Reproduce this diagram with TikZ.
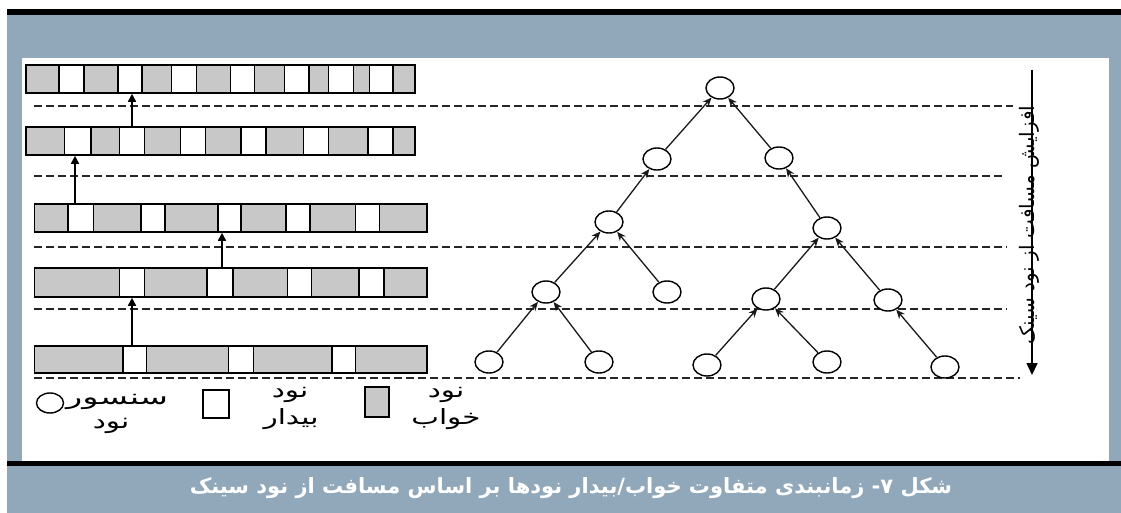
\documentclass[tikz,border=0pt]{standalone}
\usepackage{fontspec}
\usetikzlibrary{shapes.geometric,arrows.meta,fit,calc}
\newfontfamily\arabicfont[Script=Arabic]{DejaVu Sans}
\TeXXeTstate=1
\definecolor{bandblue}{RGB}{145,168,186}
\definecolor{cellgrey}{RGB}{200,200,200}
\newcommand{\lgtxt}[2][1.4]{\scalebox{#1}[1]{\beginR #2\endR}}
\tikzset{
  rowbox/.style={draw=black, fill=cellgrey, line width=1.6pt, rectangle, inner sep=0pt},
  wcell/.style={draw=black, fill=white, line width=1.6pt},
  barrow/.style={draw=black, line width=1.6pt, -{Triangle[width=8pt,length=8pt]}},
  guide/.style={draw=black!85, line width=1.4pt, dash pattern=on 8pt off 4pt},
  tnode/.style={ellipse, draw=black, fill=white, line width=1.4pt, minimum width=28pt, minimum height=22pt, inner sep=0pt},
  tedge/.style={draw=black!90, line width=1.3pt, -{Stealth[width=7.5pt,length=9pt]}},
  varrow/.style={draw=black, line width=1.6pt, -{Triangle[width=11pt,length=12pt]}},
  lgtext/.style={font=\arabicfont\fontsize{21}{24}\selectfont, inner sep=0pt},
  legbox/.style={draw=black, line width=1.5pt, inner sep=0pt}
}
\begin{document}
\begin{tikzpicture}[x=1pt,y=-1pt]
\useasboundingbox (0,0) rectangle (1121,513);
\fill[white] (0,0) rectangle (1121,513);
\fill[bandblue] (7,15) rectangle (1121,461);
\fill[black] (7,9) rectangle (1121,15);
\fill[white] (22,58) rectangle (1109,461);
\fill[black] (7,461) rectangle (1121,466);
\fill[bandblue] (7,466) rectangle (1121,513);

% guide lines
\foreach \y/\xe in {106/1013, 176/1005, 247/1007, 309/1007, 378/1020}
  \draw[guide] (34,\y) -- (\xe,\y);

% rows of cells
\node[rowbox, fit={(25.7,65) (415,93)}] (r1) {};
\foreach \a/\b in {58.9/83.9, 117.9/141.8, 171.4/196.4, 230.4/254.3, 284.6/308.9, 328.6/353.6, 369.6/392.9}
  \draw[wcell] (\a,65) rectangle (\b,93);
\node[rowbox, fit={(25.7,127) (415,155)}] (r2) {};
\foreach \a/\b in {64.3/91.1, 119.6/144.6, 180.4/205.4, 241.1/266.1, 303.6/328.6, 367.9/392.9}
  \draw[wcell] (\a,127) rectangle (\b,155);
\node[rowbox, fit={(34.6,204) (426.8,232)}] (r3) {};
\foreach \a/\b in {67.9/93.6, 141.1/165, 217.9/241.1, 285.7/310, 355.4/379.6}
  \draw[wcell] (\a,204) rectangle (\b,232);
\node[rowbox, fit={(34.6,268) (426.8,297)}] (r4) {};
\foreach \a/\b in {119.6/144.6, 207.1/232.9, 287.5/311.4, 358.9/383.9}
  \draw[wcell] (\a,268) rectangle (\b,297);
\node[rowbox, fit={(34.6,346) (426.8,373)}] (r5) {};
\foreach \a/\b in {123.2/146.4, 228.6/253.6, 332.1/355.4}
  \draw[wcell] (\a,346) rectangle (\b,373);

% arrows between rows
\coordinate (ax1) at (132,0);
\coordinate (ax2) at (75,0);
\coordinate (ax3) at (222,0);
\coordinate (ax4) at (132,0);
\draw[barrow] (r2.north -| ax1) -- (r1.south -| ax1);
\draw[barrow] (r3.north -| ax2) -- (r2.south -| ax2);
\draw[barrow] (r4.north -| ax3) -- (r3.south -| ax3);
\draw[barrow] (r5.north -| ax4) -- (r4.south -| ax4);

% tree
\node[tnode] (t1) at (720,88) {};
\node[tnode] (t2a) at (657,159) {};
\node[tnode] (t2b) at (779,158) {};
\node[tnode] (t3a) at (609,222) {};
\node[tnode] (t3b) at (827,228) {};
\node[tnode] (t4a) at (546,292) {};
\node[tnode] (t4b) at (667,292) {};
\node[tnode] (t4c) at (766,299) {};
\node[tnode] (t4d) at (888,300) {};
\node[tnode] (t5a) at (489,362) {};
\node[tnode] (t5b) at (599,362) {};
\node[tnode] (t5c) at (707,365) {};
\node[tnode] (t5d) at (827,362) {};
\node[tnode] (t5e) at (945,367) {};
\foreach \c/\p in {t2a/t1, t2b/t1, t3a/t2a, t3b/t2b, t4a/t3a, t4b/t3a, t4c/t3b, t4d/t3b, t5a/t4a, t5b/t4a, t5c/t4c, t5d/t4c, t5e/t4d}
  \draw[tedge] (\c) -- (\p);

% vertical distance arrow
\coordinate (vt) at (1032,70);
\coordinate (vb) at (1032,375);
\draw[varrow] (vt) -- (vb);
\node[rotate=90, anchor=base, inner sep=0pt, font=\arabicfont\fontsize{20}{22}\selectfont] (vl) at (1034,225) {\beginR افزایش مسافت از نود سینک\endR};

% legend
\node[tnode, minimum width=27pt, minimum height=20pt] (lc) at (50,403) {};
\node[lgtext, anchor=west] (ls1) at (66,402) {\lgtxt[1.6]{سنسور}};
\node[lgtext] (ls2) at (111,426) {\lgtxt{نود}};
\node[legbox, fill=white, minimum width=26pt, minimum height=28pt] (lw) at (216,404) {};
\node[lgtext] (lw1) at (290,395) {\lgtxt{نود}};
\node[lgtext] (lw2) at (291,419) {\lgtxt{بیدار}};
\node[legbox, fill=cellgrey, minimum width=24pt, minimum height=30pt] (lg) at (377,402) {};
\node[lgtext] (lg1) at (446,395) {\lgtxt{نود}};
\node[lgtext] (lg2) at (446,419) {\lgtxt{خواب}};

% caption
\node[text=white, inner sep=0pt, font=\arabicfont\bfseries\fontsize{21}{24}\selectfont] (cap) at (571,488) {\beginR شکل ۷- زمانبندی متفاوت خواب/بیدار نودها بر اساس مسافت از نود سینک\endR};
\end{tikzpicture}
\end{document}
